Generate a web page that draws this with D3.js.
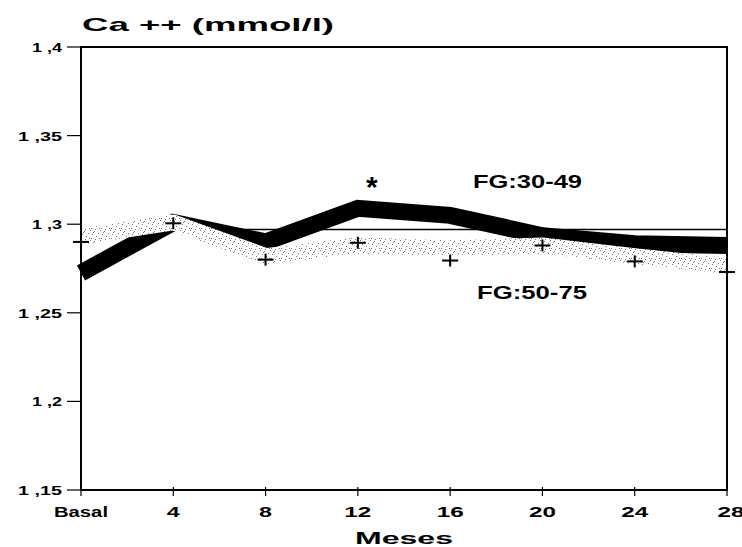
<!DOCTYPE html>
<html>
<head>
<meta charset="utf-8">
<script src="https://cdn.jsdelivr.net/npm/d3@7"></script>
<style>
  html, body { margin: 0; padding: 0; background: #fff; }
  svg { display: block; }
  text { font-family: "Liberation Sans", Arial, Helvetica, sans-serif; font-weight: bold; fill: #000; }
</style>
</head>
<body>
<script>
// ---- Data ----
const months = ["Basal", "4", "8", "12", "16", "20", "24", "28"];
const monthValues = [0, 4, 8, 12, 16, 20, 24, 28];
const fg3049 = [1.2725, 1.301, 1.290, 1.309, 1.305, 1.2935, 1.289, 1.288];
const fg5075 = [1.290, 1.3005, 1.280, 1.2895, 1.2795, 1.288, 1.279, 1.273];
const fg5075Band = [1.293, 1.301, 1.282, 1.288, 1.2865, 1.288, 1.282, 1.2765];
const yTicks = [1.15, 1.2, 1.25, 1.3, 1.35, 1.4];
const yTickLabels = ["1 ,15", "1 ,2", "1 ,25", "1 ,3", "1 ,35", "1 ,4"];
const referenceLevel = [1.297];
const seriesNames = ["FG:30-49", "FG:50-75"];
const significance = [{ month: 12, value: 1.325, mark: "*" }];
const titleText = "Ca ++ (mmol/l)";
const xTitle = "Meses";

// ---- Layout ----
const W = 742, H = 547;
const plot = { left: 81, right: 727, top: 47, bottom: 490 };

const svg = d3.select("body").append("svg").attr("width", W).attr("height", H);

const x = d3.scaleLinear().domain([0, 28]).range([plot.left, plot.right]);
const y = d3.scaleLinear().domain([1.15, 1.4]).range([plot.bottom, plot.top]);

// stipple pattern for the grey band
const defs = svg.append("defs");
const pat = defs.append("pattern").attr("id", "stipple")
  .attr("patternUnits", "userSpaceOnUse").attr("width", 10).attr("height", 10);
pat.append("rect").attr("width", 10).attr("height", 10).attr("fill", "#fff");
[[0,0],[4,1],[8,3],[2,4],[6,6],[9,8],[1,8],[5,9],[3,2]].forEach(([a,b]) =>
  pat.append("rect").attr("x", a).attr("y", b).attr("width", 1).attr("height", 1).attr("fill", "#777"));

// helper for stretched wide text
function wideText(g, str, px, py, width, size, anchor) {
  return g.append("text")
    .attr("x", px).attr("y", py)
    .attr("font-size", size)
    .attr("text-anchor", anchor || "start")
    .attr("textLength", width)
    .attr("lengthAdjust", "spacingAndGlyphs")
    .text(str);
}

// reference line
svg.append("g").selectAll("line").data(referenceLevel).join("line")
  .attr("x1", x(0)).attr("x2", x(28))
  .attr("y1", d => y(d)).attr("y2", d => y(d))
  .attr("stroke", "#000").attr("stroke-width", 1.6);

const line = d3.line().x((d, i) => x(monthValues[i])).y(d => y(d));

// FG:30-49 thick black band
svg.append("path").datum(fg3049)
  .attr("d", line).attr("fill", "none")
  .attr("stroke", "#000").attr("stroke-width", 17)
  .attr("stroke-linejoin", "miter").attr("stroke-linecap", "butt");

// FG:50-75 stippled grey band
svg.append("path").datum(fg5075Band)
  .attr("d", line).attr("fill", "none")
  .attr("stroke", "url(#stipple)").attr("stroke-width", 16)
  .attr("stroke-linejoin", "round").attr("stroke-linecap", "butt");

// plus markers for FG:50-75
const plusG = svg.append("g");
fg5075.forEach((v, i) => {
  const cx = x(monthValues[i]), cy = y(v);
  plusG.append("line").attr("x1", cx - 8).attr("x2", cx + 8).attr("y1", cy).attr("y2", cy)
    .attr("stroke", "#000").attr("stroke-width", 2);
  plusG.append("line").attr("x1", cx).attr("x2", cx).attr("y1", cy - 6).attr("y2", cy + 6)
    .attr("stroke", "#000").attr("stroke-width", 2);
});

// frame
svg.append("rect")
  .attr("x", plot.left).attr("y", plot.top)
  .attr("width", plot.right - plot.left).attr("height", plot.bottom - plot.top)
  .attr("fill", "none").attr("stroke", "#000").attr("stroke-width", 2);

// y axis ticks and labels
const yAxis = svg.append("g");
yTicks.forEach((t, i) => {
  yAxis.append("line").attr("x1", plot.left - 14).attr("x2", plot.left)
    .attr("y1", y(t)).attr("y2", y(t)).attr("stroke", "#000").attr("stroke-width", 1.2);
  const lbl = yTickLabels[i];
  const wdt = lbl.length >= 5 ? 44 : 30;
  wideText(yAxis, lbl, plot.left - 19, y(t) + 5, wdt, 13, "end");
});

// x axis ticks and labels
const xAxis = svg.append("g");
monthValues.forEach((m, i) => {
  xAxis.append("line").attr("x1", x(m)).attr("x2", x(m))
    .attr("y1", plot.bottom - 3).attr("y2", plot.bottom + 6)
    .attr("stroke", "#000").attr("stroke-width", 1.2);
  const lbl = months[i];
  const wdt = lbl === "Basal" ? 54 : (lbl.length === 1 ? 13 : 27);
  const cx = i === months.length - 1 ? x(m) + 4 : x(m);
  wideText(xAxis, lbl, cx, plot.bottom + 27, wdt, 14, "middle");
});

// titles
wideText(svg, titleText, 82, 31, 252, 19, "start");
wideText(svg, xTitle, (plot.left + plot.right) / 2, 544, 98, 16, "middle");

// series labels
wideText(svg, seriesNames[0], 473, 188, 109, 18, "start");
wideText(svg, seriesNames[1], 477, 299, 110, 18, "start");

// significance mark
svg.append("g").selectAll("text").data(significance).join("text")
  .attr("x", d => x(d.month) + 14).attr("y", d => y(d.value) + 17)
  .attr("font-size", 30).attr("text-anchor", "middle")
  .text(d => d.mark);
</script>
</body>
</html>
